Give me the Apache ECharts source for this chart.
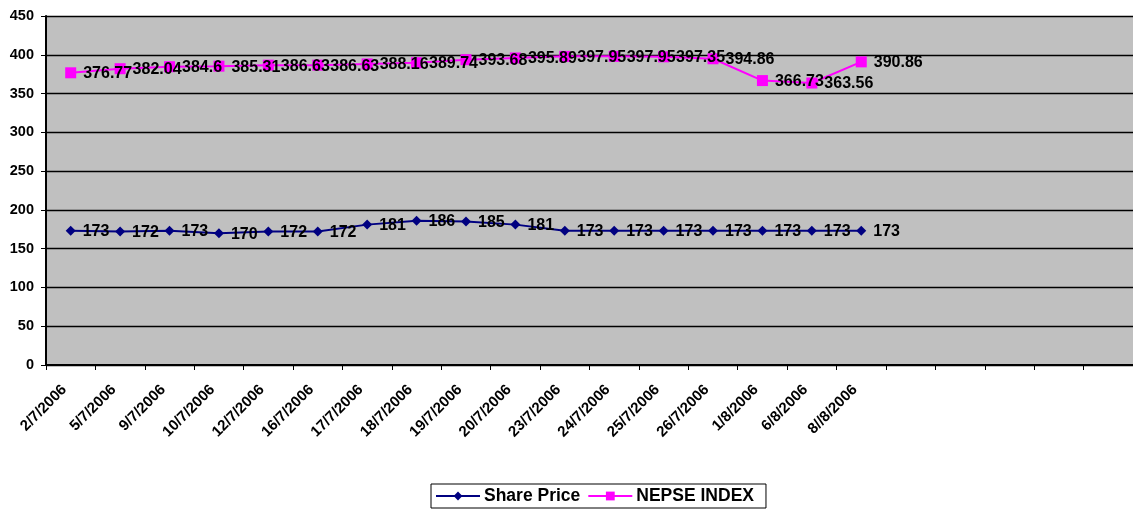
<!DOCTYPE html>
<html>
<head>
<meta charset="utf-8">
<script src="https://cdn.jsdelivr.net/npm/echarts@6/dist/echarts.min.js"></script>
<style>
html,body{margin:0;padding:0;background:#fff;}
#chart{width:1133px;height:510px;}
</style>
</head>
<body>
<div id="chart"></div>
<script>
const categories = ['2/7/2006','5/7/2006','9/7/2006','10/7/2006','12/7/2006','16/7/2006','17/7/2006','18/7/2006','19/7/2006','20/7/2006','23/7/2006','24/7/2006','25/7/2006','26/7/2006','1/8/2006','6/8/2006','8//8/2006','','','','',''];
const sharePrice = [173,172,173,170,172,172,181,186,185,181,173,173,173,173,173,173,173];
const nepseIndex = [376.77,382.04,384.6,385.31,386.63,386.63,388.16,389.74,393.68,395.89,397.95,397.95,397.35,394.86,366.73,363.56,390.86];
const yTicks = [0,50,100,150,200,250,300,350,400,450];

const FONT = '"Liberation Sans", Arial, sans-serif';
const chart = echarts.init(document.getElementById('chart'), null, {renderer:'canvas'});
const labelStyle = {show:true, position:'right', distance:7, offset:[0,1], color:'#000', fontWeight:'bold', fontSize:16, fontFamily:FONT};
chart.setOption({
  animation:false,
  backgroundColor:'#fff',
  textStyle:{fontFamily:FONT},
  grid:{left:46, right:0, top:16, bottom:145, show:true, backgroundColor:'#C0C0C0', borderWidth:0},
  xAxis:{
    type:'category', data:categories, boundaryGap:true,
    axisLine:{lineStyle:{color:'#000', width:2}},
    axisTick:{show:true, interval:0, length:5, lineStyle:{color:'#000', width:1}},
    axisLabel:{interval:0, rotate:45, color:'#000', fontWeight:'bold', fontSize:15, fontFamily:FONT, margin:16, padding:[0,9,0,0]},
    splitLine:{show:false}
  },
  yAxis:{
    type:'value', min:yTicks[0], max:yTicks[yTicks.length-1], interval:50,
    axisLine:{show:true, lineStyle:{color:'#000', width:2}},
    axisTick:{show:true, length:5, lineStyle:{color:'#000', width:1}},
    axisLabel:{color:'#000', fontWeight:'bold', fontSize:14.5, fontFamily:FONT, margin:12},
    splitLine:{show:true, lineStyle:{color:'#000', width:1.3}}
  },
  legend:{
    bottom:2, left:431,
    data:['Share Price','NEPSE INDEX'],
    borderColor:'#000', borderWidth:1, padding:[3,12,3,4], itemGap:7,
    itemWidth:44, itemHeight:11,
    textStyle:{color:'#000', fontWeight:'bold', fontSize:17.5, fontFamily:FONT, padding:[0,0,0,-1]}
  },
  series:[
    {name:'Share Price', type:'line', data:sharePrice, symbol:'diamond', symbolSize:10,
     itemStyle:{color:'#000080'}, lineStyle:{color:'#000080', width:2}, label:labelStyle},
    {name:'NEPSE INDEX', type:'line', data:nepseIndex, symbol:'rect', symbolSize:11,
     itemStyle:{color:'#FF00FF'}, lineStyle:{color:'#FF00FF', width:2}, label:labelStyle}
  ]
});
</script>
</body>
</html>
